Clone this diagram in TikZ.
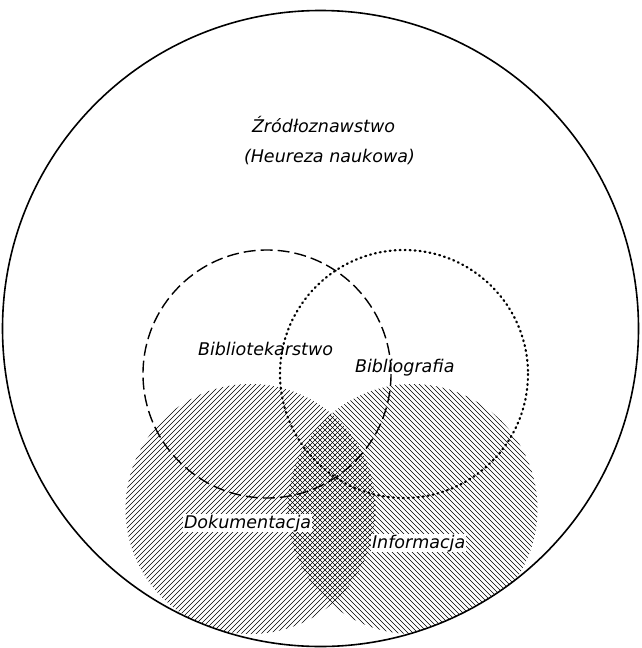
\documentclass[tikz,border=0pt]{standalone}
\usepackage{fontspec}
\setmainfont{DejaVu Sans}
\begin{document}
\begin{tikzpicture}[x=1pt,y=-1pt,
  lbl/.style={font=\fontsize{17.5}{21}\selectfont\itshape, inner sep=0.8pt, anchor=base west},
  lblw/.style={lbl, fill=white},
  hatch/.style={line width=0.65pt, black},
  outer/.style={line width=1.6pt},
  dashc/.style={line width=1.4pt, dash pattern=on 12pt off 5pt},
  dotc/.style={line width=2.2pt, line cap=round, dash pattern=on 1pt off 4pt}]
\useasboundingbox (0,0) rectangle (641,648);
\coordinate (O) at (320.5,328.5);
\coordinate (D) at (250.5,509);
\coordinate (I) at (412.5,509);
\coordinate (L) at (267,374);
\coordinate (G) at (404,374);
% hatched circles
\begin{scope}
  \clip (O) circle (318);
  \clip (D) circle (125);
  \foreach \c in {570,575,...,950} \draw[hatch] (\c-370,370) -- (\c-650,650);
\end{scope}
\begin{scope}
  \clip (O) circle (318);
  \clip (I) circle (125);
  \foreach \c in {-290,-285,...,100} \draw[hatch] (\c+370,370) -- (\c+650,650);
\end{scope}
% circles
\draw[outer] (O) circle (318);
\draw[dashc] (L) circle (124);
\draw[dotc] (G) circle (124);
% labels
\node[lbl] (zr) at (251,132) {Źródłoznawstwo};
\node[lbl] (he) at (243,162) {(Heureza naukowa)};
\node[lbl] (bt) at (197,355) {Bibliotekarstwo};
\node[lbl] (bg) at (354,372) {Bibliografia};
\node[lblw] (dk) at (183,528) {Dokumentacja};
\node[lblw] (in) at (371,548) {Informacja};
\end{tikzpicture}
\end{document}
